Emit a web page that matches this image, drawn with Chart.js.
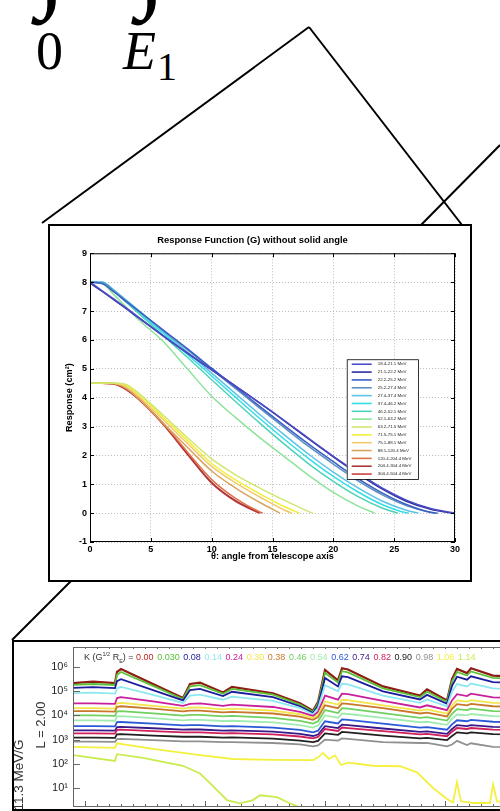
<!DOCTYPE html>
<html>
<head>
<meta charset="utf-8">
<script src="https://cdn.jsdelivr.net/npm/chart.js@4.4.1/dist/chart.umd.min.js"></script>
<style>
  body { margin: 0; background: #fff; }
  #page { position: relative; width: 500px; height: 811px; overflow: hidden; background: #fff; }
  .math { position: absolute; font-family: "Liberation Serif", "Times New Roman", serif; line-height: 1; color: #000; white-space: nowrap; }
  .box { position: absolute; border: 2px solid #000; background: #fff; overflow: hidden; }
  .rot { position: absolute; font-family: "Liberation Sans", Arial, sans-serif; color: #333; white-space: nowrap; transform: translate(-50%, -50%) rotate(-90deg); }
  #kline { position: absolute; left: 84px; top: 651px; font-family: "Liberation Sans", Arial, sans-serif; font-size: 9px; color: #333; white-space: nowrap; }
  #kline span { margin-right: 3.6px; }
</style>
</head>
<body>
<div id="page">
  <svg width="500" height="811" style="position:absolute;left:0;top:0">
    <g stroke="#000" stroke-width="2" fill="none">
      <line x1="42" y1="223" x2="309" y2="27"/>
      <line x1="309" y1="27" x2="462" y2="225"/>
      <line x1="421" y1="225" x2="500" y2="145"/>
      <line x1="71" y1="581" x2="12" y2="640"/>
    </g>
  </svg>
  <span class="math" style="left:37px;top:-96px;font-size:110px;font-weight:bold">∫</span>
  <span class="math" style="left:137px;top:-96px;font-size:110px;font-weight:bold">∫</span>
  <span class="math" style="left:36px;top:24px;font-size:54px">0</span>
  <span class="math" style="left:123px;top:24px;font-size:54px;font-style:italic">E</span>
  <span class="math" style="left:157px;top:47px;font-size:40px">1</span>

  <div class="box" style="left:48px;top:224px;width:420px;height:354px">
    <canvas id="resp" width="420" height="354"></canvas>
  </div>

  <div class="box" style="left:12px;top:640px;width:540px;height:167px">
    <canvas id="flux" width="530" height="167"></canvas>
  </div>
  <div id="kline"></div>
  <div class="rot" style="left:40px;top:725px;font-size:13px">L = 2.00</div>
  <div class="rot" style="left:18px;top:775px;font-size:13.5px">11.3 MeV/G</div>
</div>

<script>
Chart.defaults.font.family = '"Liberation Sans", Arial, sans-serif';
Chart.defaults.color = '#000';

// ---- response function G(theta) ----
const angles = [0, 1, 2, 3, 4, 6, 8, 10, 12, 14, 16, 18, 20, 22, 24, 26, 28];
const yTicksResp = [-1, 0, 1, 2, 3, 4, 5, 6, 7, 8, 9];
const xTicksResp = [0, 5, 10, 15, 20, 25, 30];

const bands = [
  '18.4-21.1 MeV', '21.1-22.2 MeV', '22.2-25.2 MeV', '25.2-27.4 MeV', '27.4-37.4 MeV',
  '37.4-46.2 MeV', '46.2-52.1 MeV', '52.1-63.2 MeV', '63.2-71.5 MeV', '71.5-75.1 MeV',
  '75.1-88.1 MeV', '88.1-120.4 MeV', '120.4-204.4 MeV', '204.4-304.4 MeV', '304.4-504.4 MeV'
];
const bandColors = [
  '#4b4bc8', '#2e2e9e', '#3b5fc4', '#5b8fc0', '#5cc3e6',
  '#34dde8', '#4ed2b8', '#8de39a', '#cfe66f', '#f2ef3a',
  '#f2c96a', '#d9a45c', '#e0704c', '#a8383a', '#cc3f3f'
];
// angle where each band's response reaches zero
const zeroAngles = [30, 29.8, 28.6, 28.4, 27, 26.2, 25.3, 23.4, 18.3, 17.2, 16.6, 15.6, 14.2, 14.0, 13.9];

const g01 = [8.0, 7.7, 7.4, 7.1, 6.78, 6.15, 5.55, 4.97, 4.38, 3.8, 3.2, 2.58, 1.97, 1.4, 0.87, 0.45, 0.16];
const g02 = [7.97, 7.68, 7.38, 7.07, 6.76, 6.14, 5.54, 4.96, 4.39, 3.8, 3.19, 2.56, 1.95, 1.37, 0.84, 0.41, 0.13];
const g03 = [8.0, 7.95, 7.65, 7.32, 7.0, 6.35, 5.7, 5.02, 4.35, 3.68, 3.02, 2.38, 1.78, 1.2, 0.7, 0.3, 0.03];
const g04 = [8.0, 7.98, 7.68, 7.34, 7.0, 6.33, 5.66, 4.98, 4.3, 3.62, 2.95, 2.3, 1.7, 1.13, 0.64, 0.26, 0.02];
const g05 = [8.0, 8.0, 7.72, 7.37, 7.02, 6.3, 5.58, 4.85, 4.12, 3.4, 2.7, 2.03, 1.42, 0.88, 0.42, 0.1, null];
const g06 = [8.0, 8.0, 7.7, 7.34, 6.98, 6.24, 5.5, 4.75, 4.0, 3.26, 2.55, 1.88, 1.27, 0.74, 0.3, 0.01, null];
const g07 = [8.0, 8.0, 7.68, 7.3, 6.92, 6.16, 5.4, 4.62, 3.85, 3.1, 2.38, 1.7, 1.1, 0.58, 0.18, null, null];
const g08 = [8.0, 7.95, 7.55, 7.12, 6.7, 5.95, 5.0, 4.05, 3.3, 2.6, 1.95, 1.3, 0.72, 0.25, null, null, null];
const g09 = [4.5, 4.5, 4.5, 4.45, 4.15, 3.4, 2.62, 1.88, 1.32, 0.86, 0.44, 0.05, null, null, null, null, null];
const g10 = [4.5, 4.5, 4.5, 4.42, 4.1, 3.32, 2.52, 1.72, 1.14, 0.66, 0.22, null, null, null, null, null, null];
const g11 = [4.5, 4.5, 4.5, 4.38, 4.04, 3.24, 2.42, 1.62, 1.04, 0.55, 0.1, null, null, null, null, null, null];
const g12 = [4.5, 4.5, 4.49, 4.32, 3.96, 3.12, 2.28, 1.46, 0.86, 0.36, null, null, null, null, null, null, null];
const g13 = [4.5, 4.5, 4.48, 4.3, 3.98, 3.12, 2.12, 1.16, 0.5, 0.03, null, null, null, null, null, null, null];
const g14 = [4.5, 4.5, 4.47, 4.28, 3.96, 3.1, 2.06, 1.06, 0.42, null, null, null, null, null, null, null, null];
const g15 = [4.5, 4.5, 4.47, 4.27, 3.94, 3.08, 2.04, 1.04, 0.4, null, null, null, null, null, null, null, null];
const responseSeries = [g01, g02, g03, g04, g05, g06, g07, g08, g09, g10, g11, g12, g13, g14, g15];

function responsePoints(vals, end) {
  const pts = [];
  vals.forEach((v, i) => { if (v !== null) pts.push({ x: angles[i], y: v }); });
  pts.push({ x: end, y: 0 });
  return pts;
}

// frame, inward ticks and the boxed legend, MATLAB style
const respExtras = {
  id: 'respExtras',
  afterDatasetsDraw(chart) {
    const { ctx, chartArea: a, scales: { x, y } } = chart;
    ctx.save();
    ctx.setLineDash([]);
    ctx.strokeStyle = '#000';
    ctx.lineWidth = 1;
    ctx.strokeRect(a.left + 0.5, a.top + 0.5, a.width - 1, a.height - 1);
    ctx.beginPath();
    xTicksResp.forEach(t => {
      const px = Math.round(x.getPixelForValue(t)) + 0.5;
      ctx.moveTo(px, a.bottom); ctx.lineTo(px, a.bottom - 4);
      ctx.moveTo(px, a.top); ctx.lineTo(px, a.top + 4);
    });
    yTicksResp.forEach(t => {
      const py = Math.round(y.getPixelForValue(t)) + 0.5;
      ctx.moveTo(a.left, py); ctx.lineTo(a.left + 4, py);
      ctx.moveTo(a.right, py); ctx.lineTo(a.right - 4, py);
    });
    ctx.stroke();

    // legend box
    const lx = x.getPixelForValue(21.1), rx = x.getPixelForValue(26.95);
    const ty = y.getPixelForValue(5.33), by = y.getPixelForValue(1.18);
    ctx.fillStyle = '#fff';
    ctx.fillRect(lx, ty, rx - lx, by - ty);
    ctx.lineWidth = 0.8;
    ctx.strokeRect(lx + 0.5, ty + 0.5, rx - lx, by - ty);
    const step = (by - ty - 10) / (bands.length - 1);
    ctx.font = '4.4px "Liberation Sans", Arial, sans-serif';
    ctx.textBaseline = 'middle';
    bands.forEach((b, i) => {
      const ry = ty + 5 + i * step;
      ctx.strokeStyle = bandColors[i];
      ctx.lineWidth = 1.6;
      ctx.beginPath(); ctx.moveTo(lx + 5, ry); ctx.lineTo(lx + 25, ry); ctx.stroke();
      ctx.fillStyle = '#222';
      ctx.fillText(b, lx + 31, ry);
    });
    ctx.restore();
  }
};

new Chart(document.getElementById('resp'), {
  type: 'line',
  data: {
    datasets: responseSeries.map((vals, i) => ({
      label: bands[i],
      data: responsePoints(vals, zeroAngles[i]),
      borderColor: bandColors[i],
      borderWidth: 1.5,
      pointRadius: 0,
      cubicInterpolationMode: 'monotone',
      fill: false
    }))
  },
  options: {
    responsive: false,
    animation: false,
    devicePixelRatio: 1,
    layout: { padding: { left: 0, right: 15, top: 0, bottom: 0 } },
    plugins: {
      legend: { display: false },
      tooltip: { enabled: false },
      title: {
        display: true,
        text: 'Response Function (G) without solid angle',
        font: { size: 9.4, weight: 'bold' },
        padding: { top: 9, bottom: 7 }
      }
    },
    scales: {
      x: {
        type: 'linear', min: 0, max: 30,
        afterBuildTicks: s => { s.ticks = xTicksResp.map(v => ({ value: v })); },
        afterFit: s => { s.height = 38; },
        ticks: { font: { size: 9, weight: 'bold' }, padding: 2, maxRotation: 0 },
        grid: { color: '#bdbdbd', drawTicks: false },
        border: { display: false, dash: [1, 2] },
        title: { display: true, text: 'θ: angle from telescope axis', font: { size: 9.2, weight: 'bold' }, padding: { top: 0, bottom: 18 } }
      },
      y: {
        type: 'linear', min: -1, max: 9,
        afterBuildTicks: s => { s.ticks = yTicksResp.map(v => ({ value: v })); },
        afterFit: s => { s.width = 40; },
        ticks: { font: { size: 9, weight: 'bold' }, padding: 3 },
        grid: { color: '#bdbdbd', drawTicks: false },
        border: { display: false, dash: [1, 2] },
        title: { display: true, text: 'Response (cm²)', font: { size: 9.2, weight: 'bold' }, padding: { top: 14, bottom: 0 } }
      }
    }
  },
  plugins: [respExtras]
});

// ---- flux panel (log10 of flux) ----
const kValues = ['0.00', '0.030', '0.08', '0.14', '0.24', '0.30', '0.38', '0.46', '0.54', '0.62', '0.74', '0.82', '0.90', '0.98', '1.06', '1.14'];
const kColors = ['#c0281e', '#5cc23a', '#1c1c9c', '#8ee8f0', '#c8209a', '#f2e64a', '#c8782a', '#70d060',
                 '#a0ecb0', '#2a5ad8', '#3a1a8a', '#d0205a', '#202020', '#909090', '#f4f040', '#c8ec50'];
const decadeTicks = [1, 2, 3, 4, 5, 6];
const decadeLabels = ['10¹', '10²', '10³', '10⁴', '10⁵', '10⁶'];

const fluxDays = [0, 20, 42, 44, 48, 80, 110, 117, 127, 150, 159, 200, 227, 240, 245, 252, 265, 269, 275, 310, 347, 354, 374, 379, 384, 394, 398, 420, 470];
const k000 = [5.34, 5.4, 5.34, 5.8, 5.92, 5.3, 4.72, 5.3, 5.36, 4.95, 5.18, 4.92, 4.5, 4.2, 4.55, 5.88, 5.45, 5.95, 5.9, 5.2, 4.82, 5.08, 4.62, 5.5, 5.92, 5.75, 5.95, 5.65, 5.55];
const k003 = [5.26, 5.3, 5.26, 5.68, 5.8, 5.22, 4.68, 5.2, 5.25, 4.9, 5.1, 4.86, 4.45, 4.15, 4.48, 5.76, 5.36, 5.83, 5.78, 5.12, 4.76, 4.98, 4.56, 5.4, 5.8, 5.65, 5.82, 5.55, 5.45];
const k008 = [5.14, 5.17, 5.13, 5.42, 5.5, 5.05, 4.62, 5.05, 5.1, 4.8, 4.98, 4.76, 4.38, 4.1, 4.4, 5.55, 5.2, 5.62, 5.58, 5.0, 4.66, 4.85, 4.48, 5.22, 5.6, 5.48, 5.62, 5.38, 5.3];
const k014 = [4.92, 4.94, 4.9, 5.12, 5.18, 4.85, 4.52, 4.82, 4.86, 4.65, 4.78, 4.6, 4.3, 4.05, 4.3, 5.25, 5.0, 5.32, 5.28, 4.82, 4.52, 4.66, 4.38, 4.98, 5.3, 5.2, 5.32, 5.12, 5.05];
const k024 = [4.5, 4.5, 4.48, 4.72, 4.76, 4.58, 4.4, 4.48, 4.5, 4.4, 4.45, 4.35, 4.15, 3.98, 4.15, 4.82, 4.65, 4.9, 4.88, 4.6, 4.33, 4.42, 4.22, 4.62, 4.88, 4.8, 4.9, 4.75, 4.7];
const k030 = [4.3, 4.3, 4.28, 4.5, 4.52, 4.4, 4.28, 4.32, 4.33, 4.25, 4.28, 4.2, 4.05, 3.9, 4.02, 4.58, 4.45, 4.65, 4.63, 4.42, 4.2, 4.25, 4.08, 4.42, 4.62, 4.57, 4.63, 4.52, 4.48];
const k038 = [4.18, 4.18, 4.16, 4.36, 4.38, 4.28, 4.17, 4.2, 4.2, 4.13, 4.15, 4.08, 3.95, 3.82, 3.93, 4.42, 4.3, 4.5, 4.48, 4.3, 4.08, 4.12, 3.96, 4.27, 4.47, 4.42, 4.48, 4.38, 4.34];
const k046 = [4.0, 4.0, 3.98, 4.17, 4.18, 4.09, 3.99, 4.02, 4.02, 3.96, 3.98, 3.9, 3.78, 3.66, 3.76, 4.22, 4.1, 4.3, 4.28, 4.1, 3.9, 3.93, 3.79, 4.07, 4.26, 4.22, 4.28, 4.18, 4.14];
const k054 = [3.8, 3.8, 3.78, 3.96, 3.97, 3.89, 3.8, 3.82, 3.82, 3.77, 3.78, 3.71, 3.6, 3.5, 3.58, 4.0, 3.9, 4.08, 4.06, 3.9, 3.72, 3.74, 3.61, 3.86, 4.04, 4.0, 4.06, 3.97, 3.93];
const k062 = [3.56, 3.56, 3.55, 3.72, 3.73, 3.66, 3.59, 3.6, 3.6, 3.55, 3.56, 3.5, 3.4, 3.3, 3.37, 3.76, 3.67, 3.84, 3.82, 3.66, 3.5, 3.52, 3.41, 3.63, 3.8, 3.76, 3.82, 3.74, 3.7];
const k074 = [3.38, 3.38, 3.37, 3.52, 3.53, 3.47, 3.41, 3.42, 3.42, 3.37, 3.38, 3.33, 3.24, 3.15, 3.21, 3.56, 3.48, 3.62, 3.6, 3.46, 3.32, 3.34, 3.24, 3.44, 3.6, 3.56, 3.6, 3.53, 3.5];
const k082 = [3.26, 3.26, 3.25, 3.4, 3.41, 3.35, 3.3, 3.3, 3.3, 3.26, 3.27, 3.22, 3.13, 3.05, 3.11, 3.44, 3.36, 3.5, 3.48, 3.35, 3.22, 3.24, 3.14, 3.33, 3.48, 3.44, 3.48, 3.41, 3.38];
const k090 = [3.08, 3.08, 3.07, 3.22, 3.23, 3.17, 3.12, 3.12, 3.12, 3.08, 3.09, 3.04, 2.96, 2.9, 2.95, 3.26, 3.2, 3.32, 3.3, 3.17, 3.05, 3.07, 2.98, 3.15, 3.3, 3.26, 3.3, 3.23, 3.2];
const k098 = [2.92, 2.92, 2.91, 3.02, 3.03, 2.98, 2.93, 2.93, 2.93, 2.9, 2.9, 2.86, 2.8, 2.72, 2.76, 3.0, 2.96, 3.05, 3.03, 2.9, 2.86, 2.87, 2.72, 2.8, 2.95, 2.78, 2.85, 2.7, 2.68];

const yelDays = [0, 42, 44, 80, 127, 160, 200, 240, 246, 250, 256, 262, 268, 275, 300, 327, 344, 360, 374, 380, 384, 388, 400, 417, 420, 424, 450, 470];
const k106 = [2.7, 2.66, 2.85, 2.62, 2.36, 2.2, 2.16, 2.15, 2.3, 2.45, 2.2, 2.35, 1.95, 2.05, 1.92, 1.9, 1.65, 1.0, 0.55, 0.4, 1.25, 0.45, 0.38, 0.38, 1.15, 0.45, 0.4, 0.45];
const ygDays = [0, 42, 44, 70, 110, 127, 137, 154, 167, 180, 187, 204, 215, 227, 235];
const k114 = [2.36, 2.12, 2.4, 2.25, 1.92, 1.6, 1.2, 0.5, 0.37, 0.5, 0.7, 0.62, 0.4, 0.2, 0.0];

const fluxSeries = [k000, k003, k008, k014, k024, k030, k038, k046, k054, k062, k074, k082, k090, k098];

function pairUp(days, vals) {
  return vals.map((v, i) => ({ x: days[i], y: v }));
}

const kline = document.getElementById('kline');
kline.innerHTML = 'K (G<sup style="font-size:5.5px">1/2</sup> R<sub style="font-size:5.5px">E</sub>) = ' +
  kValues.map((k, i) => `<span style="color:${kColors[i]}">${k}</span>`).join('');

const fluxDatasets = fluxSeries.map((vals, i) => ({
  data: pairUp(fluxDays, vals),
  borderColor: kColors[i],
  borderWidth: i === 0 ? 2.2 : 1.8
}));
fluxDatasets.push({ data: pairUp(yelDays, k106), borderColor: kColors[14], borderWidth: 1.8 });
fluxDatasets.push({ data: pairUp(ygDays, k114), borderColor: kColors[15], borderWidth: 1.8 });
fluxDatasets.reverse();
fluxDatasets.forEach(d => { d.pointRadius = 0; d.tension = 0; d.fill = false; });
fluxDatasets[fluxDatasets.length - 1].borderColor = '#8e1c12';

const fluxFrame = {
  id: 'fluxFrame',
  afterDatasetsDraw(chart) {
    const { ctx, chartArea: a, scales: { x, y } } = chart;
    ctx.save();
    ctx.strokeStyle = '#666';
    ctx.lineWidth = 1;
    ctx.beginPath();
    ctx.moveTo(a.left + 0.5, a.bottom); ctx.lineTo(a.left + 0.5, a.top + 0.5); ctx.lineTo(a.right, a.top + 0.5);
    ctx.moveTo(a.left, a.bottom - 0.5); ctx.lineTo(a.right, a.bottom - 0.5);
    decadeTicks.forEach(t => {
      const py = Math.round(y.getPixelForValue(t)) + 0.5;
      ctx.moveTo(a.left, py); ctx.lineTo(a.left + 7, py);
    });
    x.ticks.forEach((t, i) => {
      const px = Math.round(x.getPixelForValue(t.value)) + 0.5;
      const len = (i % 10 === 1) ? 6 : 3;
      ctx.moveTo(px, a.bottom); ctx.lineTo(px, a.bottom - len);
      ctx.moveTo(px, a.top); ctx.lineTo(px, a.top + 2);
    });
    ctx.stroke();
    ctx.restore();
  }
};

new Chart(document.getElementById('flux'), {
  type: 'line',
  data: { datasets: fluxDatasets },
  options: {
    responsive: false,
    animation: false,
    devicePixelRatio: 1,
    layout: { padding: { left: 0, right: 10, top: 5, bottom: 0 } },
    plugins: { legend: { display: false }, tooltip: { enabled: false } },
    scales: {
      x: {
        type: 'linear', min: 0, max: 461,
        ticks: { display: false, stepSize: 12 },
        afterFit: s => { s.height = 2; s.paddingLeft = 0; s.paddingRight = 0; },
        grid: { display: false, drawTicks: false },
        border: { display: false }
      },
      y: {
        type: 'linear', min: 0.215, max: 6.83,
        afterBuildTicks: s => { s.ticks = decadeTicks.map(v => ({ value: v })); },
        afterFit: s => { s.width = 59; s.paddingTop = 0; s.paddingBottom = 0; },
        ticks: {
          font: { size: 11 }, color: '#222', padding: 5,
          callback: v => decadeLabels[decadeTicks.indexOf(v)]
        },
        grid: { display: false, drawTicks: false },
        border: { display: false }
      }
    }
  },
  plugins: [fluxFrame]
});
</script>
</body>
</html>
